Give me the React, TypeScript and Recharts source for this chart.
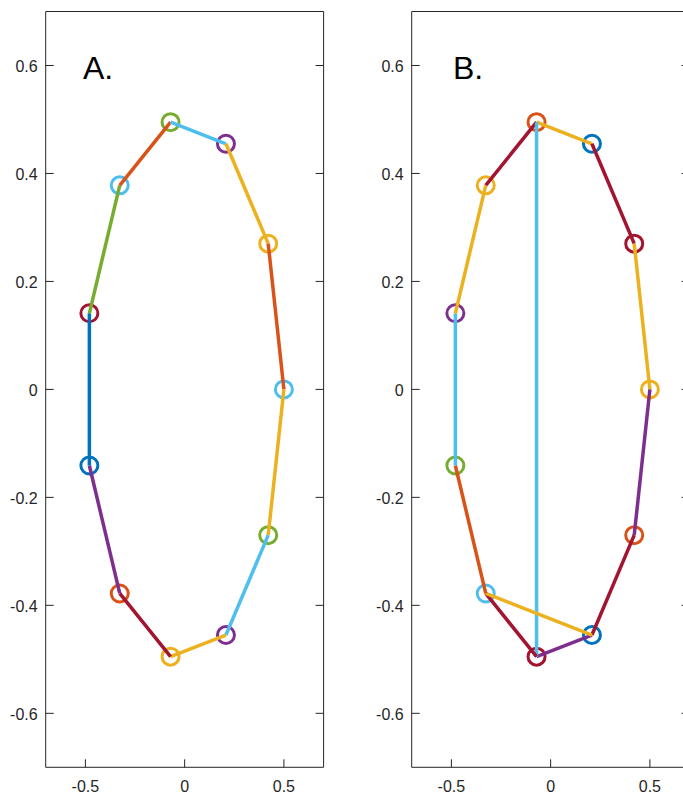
import { ScatterChart, Scatter, XAxis, YAxis } from 'recharts';

// MATLAB default colour order
const BLUE = '#0072BD';
const ORANGE = '#D95319';
const YELLOW = '#EDB120';
const PURPLE = '#7E2F8E';
const GREEN = '#77AC30';
const LIGHTBLUE = '#4DBEEE';
const DARKRED = '#A2142F';

// the 11 nodes (same positions in both panels)
const nodeX = [0.5, 0.421, 0.208, -0.071, -0.327, -0.48, -0.48, -0.327, -0.071, 0.208, 0.421];
const nodeY = [0, 0.27, 0.455, 0.495, 0.378, 0.141, -0.141, -0.378, -0.495, -0.455, -0.27];

const markerColorsA = [LIGHTBLUE, YELLOW, PURPLE, GREEN, LIGHTBLUE, DARKRED, BLUE, ORANGE, YELLOW, PURPLE, GREEN];
const markerColorsB = [YELLOW, DARKRED, BLUE, ORANGE, YELLOW, PURPLE, GREEN, LIGHTBLUE, DARKRED, BLUE, ORANGE];

// [from node, to node, colour]
const edgesA: Array<[number, number, string]> = [
  [4, 3, ORANGE],
  [3, 2, LIGHTBLUE],
  [2, 1, YELLOW],
  [1, 0, ORANGE],
  [0, 10, YELLOW],
  [10, 9, LIGHTBLUE],
  [9, 8, YELLOW],
  [8, 7, DARKRED],
  [7, 6, PURPLE],
  [6, 5, BLUE],
  [5, 4, GREEN],
];

const edgesB: Array<[number, number, string]> = [
  [4, 3, DARKRED],
  [3, 2, YELLOW],
  [2, 1, DARKRED],
  [1, 0, YELLOW],
  [0, 10, PURPLE],
  [10, 9, DARKRED],
  [9, 8, PURPLE],
  [8, 3, LIGHTBLUE],
  [8, 7, DARKRED],
  [7, 9, YELLOW],
  [7, 6, ORANGE],
  [6, 5, LIGHTBLUE],
  [5, 4, YELLOW],
];

const xTicks = [-0.5, 0, 0.5];
const yTicks = [-0.6, -0.4, -0.2, 0, 0.2, 0.4, 0.6];
const domain: [number, number] = [-0.7, 0.7];

const axisColor = '#262626';
const TICK = 8;

// MATLAB style: ticks point into the box
const BottomTick = (p: any) => (
  <g>
    <line x1={p.x} y1={p.y} x2={p.x} y2={p.y - TICK} stroke={axisColor} />
    <text x={p.x} y={p.y + 24.5} textAnchor="middle" fontSize={16} fill={axisColor}>
      {p.payload.value}
    </text>
  </g>
);
const LeftTick = (p: any) => (
  <g>
    <line x1={p.x} y1={p.y} x2={p.x + TICK} y2={p.y} stroke={axisColor} />
    <text x={p.x - 8} y={p.y + 6.3} textAnchor="end" fontSize={16} fill={axisColor}>
      {p.payload.value}
    </text>
  </g>
);
const TopTick = (p: any) => <line x1={p.x} y1={p.y} x2={p.x} y2={p.y + TICK} stroke={axisColor} />;
const RightTick = (p: any) => <line x1={p.x} y1={p.y} x2={p.x - TICK} y2={p.y} stroke={axisColor} />;

const nothing = () => <g />;

function Panel({ colors, edges }: { colors: string[]; edges: Array<[number, number, string]> }) {
  const nodes = nodeX.map((x, i) => ({ x, y: nodeY[i], color: colors[i] }));
  return (
    <ScatterChart width={330} height={795} margin={{ top: 10.5, right: 5.4, left: 0, bottom: 0 }}>
      <XAxis
        type="number"
        dataKey="x"
        domain={domain}
        ticks={xTicks}
        allowDataOverflow
        height={27.7}
        tick={BottomTick}
        tickLine={false}
        tickSize={0}
        tickMargin={0}
        stroke={axisColor}
      />
      <XAxis
        xAxisId="top"
        orientation="top"
        type="number"
        domain={domain}
        ticks={xTicks}
        allowDataOverflow
        height={1}
        tick={TopTick}
        tickLine={false}
        tickSize={0}
        tickMargin={0}
        stroke={axisColor}
      />
      <YAxis
        type="number"
        dataKey="y"
        domain={domain}
        ticks={yTicks}
        allowDataOverflow
        width={45.7}
        tick={LeftTick}
        tickLine={false}
        tickSize={0}
        tickMargin={0}
        stroke={axisColor}
      />
      <YAxis
        yAxisId="right"
        orientation="right"
        type="number"
        domain={domain}
        ticks={yTicks}
        allowDataOverflow
        width={1}
        tick={RightTick}
        tickLine={false}
        tickSize={0}
        tickMargin={0}
        stroke={axisColor}
      />
      <Scatter
        data={nodes}
        isAnimationActive={false}
        shape={(p: any) => (
          <circle cx={p.cx} cy={p.cy} r={8.5} fill="none" stroke={p.payload.color} strokeWidth={3} />
        )}
      />
      {edges.map(([a, b, c], i) => (
        <Scatter
          key={i}
          data={[
            { x: nodeX[a], y: nodeY[a] },
            { x: nodeX[b], y: nodeY[b] },
          ]}
          fill={c}
          strokeWidth={3.5}
          line={{ stroke: c, strokeWidth: 3.5 }}
          shape={nothing}
          isAnimationActive={false}
        />
      ))}
    </ScatterChart>
  );
}

export default function App() {
  return (
    <div
      style={{
        position: 'fixed',
        left: 0,
        top: 0,
        width: 683,
        height: 795,
        overflow: 'hidden',
        background: '#fff',
        fontFamily: '"Liberation Sans", Arial, sans-serif',
      }}
    >
      <div style={{ position: 'absolute', left: 0, top: 0 }}>
        <Panel colors={markerColorsA} edges={edgesA} />
      </div>
      <div style={{ position: 'absolute', left: 365.8, top: 0 }}>
        <Panel colors={markerColorsB} edges={edgesB} />
      </div>
      <svg width={683} height={795} style={{ position: 'absolute', left: 0, top: 0, pointerEvents: 'none' }}>
        <text x={83} y={79} fontSize={32} fill="#000">A.</text>
        <text x={453} y={79} fontSize={32} fill="#000">B.</text>
      </svg>
    </div>
  );
}
